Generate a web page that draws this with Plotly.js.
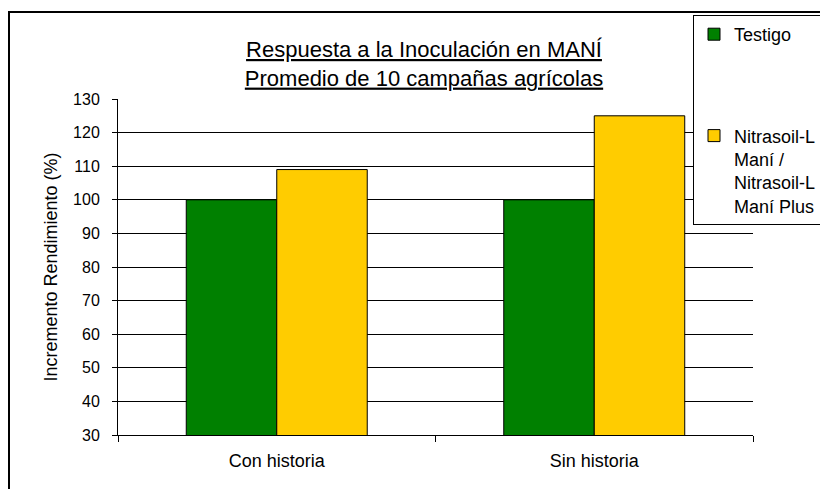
<!DOCTYPE html>
<html>
<head>
<meta charset="utf-8">
<script src="https://cdn.plot.ly/plotly-3.0.1.min.js"></script>
<style>html,body{margin:0;padding:0;background:#fff;overflow:hidden;width:820px;height:489px;} #chart{width:860px;height:489px;}</style>
</head>
<body>
<div id="chart"></div>
<script>
const categories = ["Con historia", "Sin historia"];
const testigoValues = [100, 100];
const nitrasoilValues = [109, 125];
const seriesNames = ["Testigo", "Nitrasoil-L<br>Maní /<br>Nitrasoil-L<br>Maní Plus"];
const yTicks = [30, 40, 50, 60, 70, 80, 90, 100, 110, 120, 130];

const FONT = "Arial, 'Liberation Sans', sans-serif";

const traces = [
  {type: "bar", x: categories, y: testigoValues, name: seriesNames[0], legendgroup: "a",
   marker: {color: "#008000", line: {color: "#000", width: 1}}, hoverinfo: "x+y"},
  {type: "bar", x: categories, y: nitrasoilValues, name: seriesNames[1], legendgroup: "b",
   marker: {color: "#FFCC00", line: {color: "#000", width: 1}}, hoverinfo: "x+y"}
];

const layout = {
  width: 860, height: 489,
  margin: {l: 118, r: 107, t: 99, b: 54},
  paper_bgcolor: "#fff", plot_bgcolor: "#fff",
  font: {family: FONT, color: "#000"},
  barmode: "group", bargap: 0.43, bargroupgap: 0,
  title: {
    text: "<u>Respuesta a la Inoculación en MANÍ</u><br><u>Promedio de 10 campañas agrícolas</u>",
    font: {size: 22, family: FONT, color: "#000"},
    x: (424-118)/635, xanchor: "center", xref: "paper",
    y: 1 - 57/489, yanchor: "middle", yref: "container"
  },
  xaxis: {
    type: "category", range: [-0.5, 1.5],
    tickson: "boundaries", ticks: "outside", ticklen: 6, tickcolor: "#000", tickwidth: 1,
    showline: true, linecolor: "#000", linewidth: 1, showgrid: false,
    tickfont: {size: 18, family: FONT}, ticklabelstandoff: 9
  },
  yaxis: {
    range: [30, 130], tickvals: yTicks, ticks: "outside", ticklen: 5, tickcolor: "#000",
    showline: true, linecolor: "#000", linewidth: 1,
    showgrid: true, gridcolor: "#000", gridwidth: 1, zeroline: false,
    tickfont: {size: 16, family: FONT}, ticklabelstandoff: 9,
    title: {text: "Incremento Rendimiento (%)", font: {size: 18, family: FONT}, standoff: 10}
  },
  showlegend: true,
  legend: {
    x: (693-118)/635, xanchor: "left", y: (435-15)/336, yanchor: "top",
    bgcolor: "#fff", bordercolor: "#000", borderwidth: 1,
    font: {size: 18, family: FONT}, valign: "top",
    tracegroupgap: 75, traceorder: "grouped"
  },
  shapes: [{
    type: "rect", xref: "paper", yref: "paper",
    x0: (9-118)/635, x1: 1.25, y0: -0.3, y1: (435-12)/336,
    line: {color: "#000", width: 2}, fillcolor: "rgba(0,0,0,0)", layer: "below"
  }]
};

Plotly.newPlot("chart", traces, layout, {displayModeBar: false, staticPlot: true});
</script>
</body>
</html>
